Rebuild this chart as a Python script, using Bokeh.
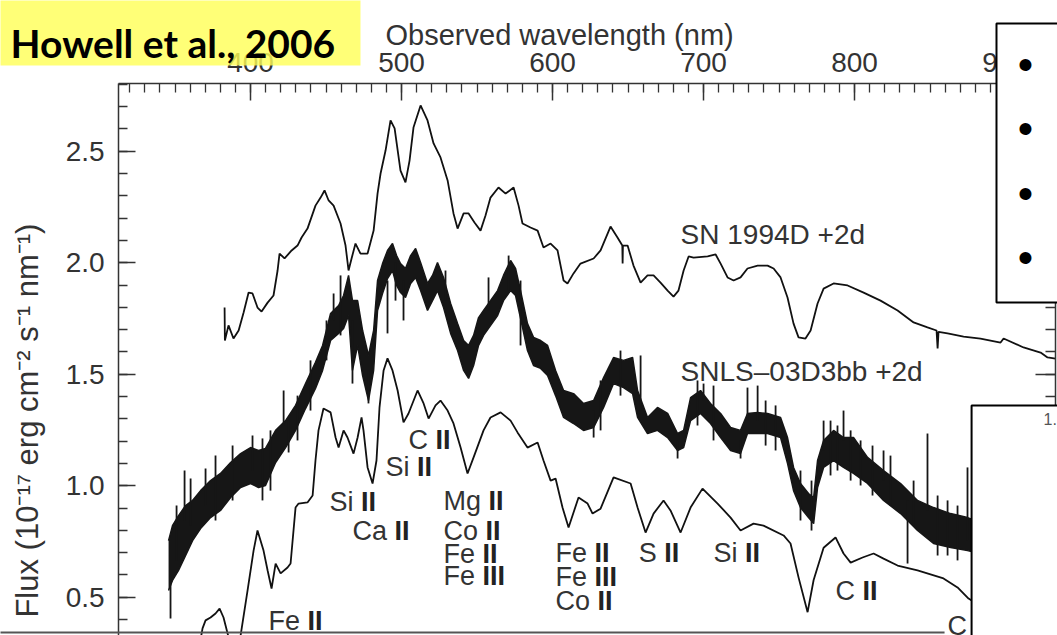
import math
from bokeh.plotting import figure
from bokeh.models import (Range1d, FixedTicker, LinearAxis, Label, BoxAnnotation,
                          ColumnDataSource, PrintfTickFormatter, CustomJSTickFormatter)
from bokeh.core.properties import value
from bokeh.embed import file_html
from bokeh.resources import INLINE

# ---------------- data ----------------
# SN 1994D +2d  (wavelength nm, flux 1e-17 erg cm-2 s-1 nm-1)
sn94_wl = [382.8, 383.0, 385.4, 388.7, 392.1, 395.4, 398.7, 401.3, 404.6, 407.3, 411.3, 415.2,
           417.9, 419.2, 422.5, 427.2, 431.1, 433.8, 437.7, 443.0, 446.4, 449.0, 451.7, 455.0,
           459.6, 462.9, 464.9, 466.9, 469.5, 472.8, 477.5, 481.5, 484.1, 486.1, 489.4, 492.7,
           495.4, 499.3, 502.6, 505.3, 507.9, 512.6, 517.2, 521.2, 525.8, 530.5, 534.4, 537.1,
           541.1, 544.4, 548.3, 552.3, 555.6, 558.9, 564.2, 568.9, 574.2, 577.5, 580.1, 585.4,
           590.1, 594.0, 598.7, 603.3, 607.3, 609.9, 613.9, 618.5, 627.2, 631.8, 638.4, 643.0,
           646.2, 646.4, 646.6, 649.7, 653.6, 658.3, 662.9, 666.9, 671.5, 676.2, 680.1, 683.4,
           686.8, 690.1, 693.4, 702.7, 708.0, 711.3, 715.9, 719.9, 724.5, 729.1, 735.8, 742.4,
           746.4, 751.0, 755.6, 759.6, 762.9, 767.5, 770.9, 775.5, 779.5, 786.1, 795.4, 806.0,
           817.2, 828.5, 839.1, 848.3, 854.3, 855.0, 855.6, 861.6, 872.2, 883.4, 896.7, 898.7,
           911.9, 923.2, 927.8, 933.1]
sn94_flux = [1.799, 1.651, 1.719, 1.660, 1.696, 1.777, 1.866, 1.862, 1.799, 1.781, 1.821, 1.853,
             1.965, 2.041, 2.019, 2.055, 2.077, 2.113, 2.153, 2.256, 2.292, 2.324, 2.279, 2.256,
             2.176, 2.077, 1.965, 2.019, 2.086, 2.041, 2.041, 2.144, 2.310, 2.400, 2.503, 2.638,
             2.602, 2.413, 2.360, 2.458, 2.606, 2.705, 2.638, 2.535, 2.472, 2.369, 2.221, 2.153,
             2.221, 2.221, 2.180, 2.144, 2.212, 2.292, 2.337, 2.310, 2.337, 2.256, 2.176, 2.158,
             2.144, 2.068, 2.086, 2.055, 1.920, 1.907, 1.952, 1.996, 2.019, 2.055, 2.162, 2.113,
             2.077, 1.996, 2.077, 2.077, 1.987, 1.911, 1.943, 1.943, 1.911, 1.875, 1.848, 1.875,
             1.965, 2.028, 2.023, 2.028, 2.037, 1.996, 1.934, 1.920, 1.934, 1.974, 1.987, 1.987,
             1.974, 1.934, 1.844, 1.727, 1.665, 1.660, 1.696, 1.817, 1.884, 1.907, 1.898, 1.866,
             1.830, 1.786, 1.732, 1.710, 1.696, 1.615, 1.690, 1.683, 1.669, 1.660, 1.642, 1.660,
             1.620, 1.597, 1.575, 1.570]

# SNLS-03D3bb +2d : noisy spectrum, upper / lower envelope of the trace
snls_wl = [345.7, 348.3, 352.3, 357.0, 361.6, 366.9, 373.5, 380.1, 386.8, 393.4, 400.0, 405.3,
           409.9, 416.6, 423.2, 429.8, 436.4, 443.0, 447.7, 453.0, 458.3, 461.6, 464.9, 467.5,
           470.9, 474.2, 478.1, 481.5, 484.1, 487.4, 490.7, 494.0, 496.7, 499.3, 502.6, 506.0,
           509.3, 512.6, 517.2, 520.5, 523.8, 527.8, 532.5, 537.1, 541.1, 544.4, 547.7, 551.0,
           554.3, 558.9, 563.6, 567.5, 572.2, 575.5, 578.8, 583.4, 587.4, 592.1, 596.7, 602.0,
           607.3, 613.9, 620.5, 627.2, 633.8, 640.4, 647.0, 653.0, 656.3, 662.9, 669.5, 676.2,
           682.8, 686.8, 691.4, 698.0, 704.6, 711.3, 717.9, 724.5, 729.1, 735.8, 742.4, 751.0,
           755.6, 759.6, 764.2, 769.5, 772.9, 775.5, 779.5, 786.1, 792.7, 799.3, 808.6, 819.2,
           830.5, 841.7, 852.3, 863.6, 874.8, 880.1]
snls_hi = [0.754, 0.821, 0.866, 0.911, 0.934, 0.978, 1.023, 1.055, 1.104, 1.144, 1.171, 1.158,
           1.167, 1.248, 1.292, 1.360, 1.458, 1.553, 1.629, 1.772, 1.808, 1.853, 1.943, 1.830,
           1.830, 1.696, 1.584, 1.696, 1.920, 1.996, 2.055, 2.086, 2.032, 1.996, 1.974, 2.032,
           2.064, 2.001, 1.907, 1.943, 2.001, 1.934, 1.817, 1.727, 1.651, 1.629, 1.674, 1.754,
           1.786, 1.830, 1.875, 1.943, 2.010, 1.974, 1.875, 1.727, 1.665, 1.651, 1.629, 1.517,
           1.427, 1.413, 1.369, 1.382, 1.485, 1.575, 1.562, 1.575, 1.427, 1.306, 1.351, 1.324,
           1.234, 1.248, 1.395, 1.427, 1.369, 1.324, 1.261, 1.248, 1.324, 1.328, 1.324, 1.306,
           1.216, 1.082, 1.010, 0.965, 0.947, 1.113, 1.203, 1.248, 1.216, 1.216, 1.127, 1.068,
           1.010, 0.934, 0.902, 0.875, 0.857, 0.844]
snls_lo = [0.530, 0.575, 0.620, 0.687, 0.754, 0.808, 0.857, 0.889, 0.947, 0.992, 1.010, 0.992,
           1.001, 1.104, 1.171, 1.248, 1.346, 1.436, 1.517, 1.651, 1.683, 1.705, 1.763, 1.517,
           1.629, 1.494, 1.382, 1.517, 1.786, 1.862, 1.929, 1.965, 1.898, 1.866, 1.844, 1.907,
           1.934, 1.875, 1.786, 1.830, 1.875, 1.799, 1.683, 1.606, 1.517, 1.481, 1.539, 1.629,
           1.674, 1.718, 1.763, 1.830, 1.875, 1.853, 1.750, 1.606, 1.539, 1.526, 1.494, 1.404,
           1.306, 1.279, 1.248, 1.261, 1.351, 1.458, 1.440, 1.413, 1.306, 1.234, 1.248, 1.216,
           1.158, 1.171, 1.292, 1.324, 1.279, 1.216, 1.158, 1.144, 1.234, 1.234, 1.234, 1.216,
           1.100, 0.978, 0.902, 0.857, 0.830, 0.992, 1.082, 1.113, 1.082, 1.055, 1.010, 0.934,
           0.875, 0.799, 0.741, 0.723, 0.709, 0.700]
# isolated noise spikes of the SNLS trace (wavelength, top, bottom)
spike_wl = [347.0, 351.0, 356.3, 360.3, 370.2, 376.8, 388.1, 401.3, 407.9, 413.2, 421.9, 425.2,
            431.1, 439.7, 450.3, 455.0, 459.6, 467.5, 478.1, 490.7, 496.0, 501.3, 529.1, 557.6,
            570.9, 578.8, 627.2, 631.8, 645.0, 658.3, 682.8, 696.0, 700.0, 706.6, 724.5, 729.1,
            735.8, 741.1, 747.7, 764.2, 771.5, 779.5, 784.1, 788.7, 792.7, 797.4, 804.0, 811.9,
            819.2, 823.8, 835.1, 839.1, 848.3, 855.0, 861.6, 868.2, 874.8]
spike_hi = [0.597, 0.911, 1.068, 1.032, 1.077, 1.135, 1.180, 1.225, 1.212, 1.248, 1.427, 1.292,
            1.404, 1.562, 1.741, 1.862, 1.943, 1.741, 1.517, 1.920, 2.001, 1.920, 1.965, 1.934,
            2.032, 1.920, 1.337, 1.472, 1.606, 1.584, 1.203, 1.472, 1.458, 1.449, 1.203, 1.440,
            1.449, 1.382, 1.360, 1.068, 1.023, 1.292, 1.292, 1.270, 1.337, 1.248, 1.203, 1.180,
            1.158, 1.135, 0.934, 1.023, 1.234, 0.956, 0.934, 0.911, 1.082]
spike_lo = [0.405, 0.665, 0.844, 0.821, 0.911, 0.844, 0.934, 1.068, 0.934, 0.978, 1.270, 1.149,
            1.203, 1.337, 1.562, 1.741, 1.674, 1.458, 1.369, 1.683, 1.830, 1.741, 1.830, 1.786,
            1.875, 1.629, 1.216, 1.248, 1.404, 1.337, 1.122, 1.270, 1.382, 1.203, 1.122, 1.292,
            1.292, 1.180, 1.158, 0.844, 0.799, 1.158, 1.046, 1.068, 1.203, 1.023, 1.001, 0.956,
            1.023, 0.911, 0.651, 0.821, 0.889, 0.687, 0.687, 0.665, 0.754]

# lower comparison spectrum
cmp_wl = [365.6, 368.2, 370.2, 373.5, 376.8, 379.5, 382.1, 384.8, 388.7, 393.4, 398.0, 402.0,
          404.6, 408.6, 411.3, 413.9, 416.6, 419.9, 424.5, 426.5, 429.8, 431.8, 437.7, 441.1,
          443.0, 445.0, 448.3, 453.0, 456.3, 458.3, 461.6, 464.2, 468.2, 470.9, 473.5, 474.8,
          477.5, 480.8, 483.4, 485.4, 488.1, 490.7, 494.0, 497.4, 501.3, 504.6, 510.6, 514.6,
          517.9, 522.5, 525.8, 530.5, 534.4, 539.1, 543.7, 547.7, 554.3, 558.9, 565.6, 572.2,
          576.8, 583.4, 590.1, 594.0, 598.7, 602.0, 606.6, 610.6, 617.2, 623.2, 626.5, 631.8,
          640.4, 651.7, 656.3, 661.6, 666.9, 673.5, 678.1, 684.8, 691.4, 699.3, 709.3, 717.9,
          724.5, 733.1, 739.7, 753.0, 757.6, 762.9, 768.9, 772.9, 779.5, 787.4, 792.7, 797.4,
          805.3, 812.6, 819.2, 828.5, 841.7, 858.9, 868.2, 875.5, 883.4]
cmp_flux = [0.261, 0.360, 0.396, 0.409, 0.427, 0.449, 0.409, 0.337, 0.238, 0.328, 0.530, 0.709,
            0.799, 0.709, 0.620, 0.539, 0.651, 0.607, 0.633, 0.651, 0.902, 0.920, 0.925, 0.956,
            1.113, 1.248, 1.346, 1.329, 1.216, 1.171, 1.248, 1.216, 1.144, 1.216, 1.306, 1.248,
            1.082, 1.010, 1.113, 1.351, 1.517, 1.571, 1.517, 1.427, 1.284, 1.324, 1.427, 1.369,
            1.301, 1.360, 1.382, 1.337, 1.279, 1.171, 1.055, 1.127, 1.248, 1.306, 1.329, 1.292,
            1.239, 1.171, 1.194, 1.113, 1.023, 1.032, 0.902, 0.813, 0.947, 0.920, 0.875, 0.897,
            1.037, 1.010, 0.902, 0.790, 0.875, 0.934, 0.889, 0.790, 0.902, 0.987, 0.920, 0.857,
            0.799, 0.830, 0.821, 0.777, 0.741, 0.589, 0.433, 0.577, 0.722, 0.768, 0.696, 0.655,
            0.678, 0.696, 0.673, 0.642, 0.620, 0.584, 0.544, 0.494, 0.459]

# line identifications
ion_elem = ["C", "Si", "Si", "Ca", "Mg", "Co", "Fe", "Fe", "Fe", "Fe", "Co", "S", "Si", "C",
            "Fe", "C", "Si"]
ion_stage = ["II", "II", "II", "II", "II", "II", "II", "III", "II", "III", "II", "II", "II",
             "II", "II", "II", "II"]
ion_wl = [504.6, 489.4, 452.3, 467.5, 527.8, 527.8, 527.8, 527.8, 602.0, 602.0, 602.0, 657.0,
          706.6, 787.4, 411.9, 861.6, 760.9]
ion_flux = [1.203, 1.082, 0.925, 0.795, 0.930, 0.799, 0.696, 0.593, 0.700, 0.589, 0.485, 0.700,
            0.700, 0.530, 0.395, 0.373, 0.283]

series_names = ["SN 1994D +2d", "SNLS\u201303D3bb +2d"]
series_wl = [684.8, 684.8]
series_flux = [2.126, 1.512]

x_major = [400, 500, 600, 700, 800, 900]
y_major = [0.5, 1.0, 1.5, 2.0, 2.5]
x_minor = [320 + 10 * i for i in range(62)]
y_minor = [round(0.4 + 0.1 * i, 1) for i in range(25)]

# plot box of the original figure (data units)
X_LEFT, X_RIGHT = 312.6, 933.1
Y_TOP = 2.8036

# ---------------- figure ----------------
FONT = "Liberation Sans"
TXT = "#333333"
INK = "#111111"

p = figure(width=1057, height=635, output_backend="svg", toolbar_location=None,
           x_range=Range1d(234.4, 934.4), y_range=Range1d(0.3283, 3.1758),
           x_axis_type=None, y_axis_type=None, title=None,
           min_border_left=0, min_border_right=0, min_border_top=0, min_border_bottom=0)
p.outline_line_color = None
p.background_fill_color = "white"
p.border_fill_color = "white"


def style_axis(ax):
    ax.axis_line_color = "#333333"
    ax.axis_line_width = 1.5
    ax.major_tick_line_color = "#333333"
    ax.minor_tick_line_color = "#333333"
    ax.major_tick_line_width = 1.5
    ax.minor_tick_line_width = 1.3
    ax.major_tick_in = 17
    ax.major_tick_out = 0
    ax.minor_tick_in = 9
    ax.minor_tick_out = 0
    ax.major_label_text_font = FONT
    ax.major_label_text_color = TXT
    ax.major_label_text_font_size = "28px"


xa = LinearAxis(ticker=FixedTicker(ticks=x_major, minor_ticks=x_minor),
                fixed_location=Y_TOP, bounds=(X_LEFT, X_RIGHT))
style_axis(xa)
xa.major_label_standoff = 12
p.add_layout(xa, "above")

ya = LinearAxis(ticker=FixedTicker(ticks=y_major, minor_ticks=y_minor),
                formatter=PrintfTickFormatter(format="%.1f"),
                fixed_location=X_LEFT, bounds=(0.0, Y_TOP))
style_axis(ya)
ya.major_label_standoff = 14
p.add_layout(ya, "left")

ra = LinearAxis(ticker=FixedTicker(ticks=y_major, minor_ticks=y_minor),
                formatter=CustomJSTickFormatter(code="return ''"),
                fixed_location=X_RIGHT, bounds=(0.0, Y_TOP))
style_axis(ra)
ra.major_tick_in = 20
ra.minor_tick_in = 10
p.add_layout(ra, "right")

# spectra
p.line(sn94_wl, sn94_flux, line_color=INK, line_width=1.8)
p.varea(x=snls_wl, y1=snls_lo, y2=snls_hi, fill_color="#161616")
p.line(snls_wl, snls_hi, line_color="#161616", line_width=1.5)
p.line(snls_wl, snls_lo, line_color="#161616", line_width=1.5)
p.segment(x0=spike_wl, y0=spike_lo, x1=spike_wl, y1=spike_hi, line_color="#161616",
          line_width=1.8)
p.line(cmp_wl, cmp_flux, line_color=INK, line_width=1.8)

# line-ID labels: element in regular, ionisation stage in bold bars
ION_SIZE = 27
adv = {"C": 0.722, "S": 0.667, "i": 0.222, "a": 0.556, "M": 0.833, "g": 0.556,
       "o": 0.556, "F": 0.611, "e": 0.556, " ": 0.278}
stage_offset = [sum(adv[c] for c in e + " ") * ION_SIZE for e in ion_elem]
ion_src = ColumnDataSource(dict(x=ion_wl, y=ion_flux, elem=ion_elem, stage=ion_stage,
                                off=stage_offset))
p.text(x="x", y="y", text="elem", source=ion_src, text_font=value(FONT),
       text_font_size=f"{ION_SIZE}px", text_color=TXT, text_align="left", text_baseline="middle")
p.text(x="x", y="y", text="stage", x_offset="off", source=ion_src, text_font=value(FONT),
       text_font_style="bold", text_font_size=f"{ION_SIZE}px", text_color="#222222",
       text_align="left", text_baseline="middle")

p.text(x=series_wl, y=series_flux, text=series_names, text_font=value(FONT),
       text_font_size="28px", text_color=TXT, text_align="left", text_baseline="middle")

# axis titles
p.add_layout(Label(x=489.4, y=3.019, text="Observed wavelength (nm)", text_font=FONT,
                   text_font_size="29px", text_color=TXT, text_align="left",
                   text_baseline="alphabetic"))
p.add_layout(Label(x=252.3, y=1.292,
                   text="Flux (10\u207b\u00b9\u2077 erg cm\u207b\u00b2 s\u207b\u00b9 nm\u207b\u00b9)",
                   angle=math.pi / 2, text_font=FONT, text_font_size="31px", text_color=TXT,
                   text_align="center", text_baseline="middle"))

# slide overlays
p.add_layout(BoxAnnotation(left=230.0, right=472.8, top=3.30, bottom=2.884,
                           fill_color="#FFFF55", fill_alpha=0.8, line_color=None))
p.add_layout(Label(x=241.1, y=2.983, text="Howell et al., 2006", text_font="Lato",
                   text_font_style="bold", text_font_size="39px", text_color="black",
                   text_baseline="alphabetic"))

p.add_layout(BoxAnnotation(left=894.0, right=960.0, top=3.073, bottom=1.8215,
                           fill_color="white", fill_alpha=1.0, line_color="black",
                           line_alpha=1.0, line_width=2))
for by in [2.889, 2.602, 2.310, 2.023]:
    p.add_layout(Label(x=913.2, y=by, text="\u2022", text_font=FONT, text_font_size="44px",
                       text_color="black", text_align="center", text_baseline="middle"))

p.add_layout(BoxAnnotation(left=877.5, right=960.0, top=1.3596, bottom=0.20,
                           fill_color="white", fill_alpha=1.0, line_color="black",
                           line_alpha=1.0, line_width=2))
p.add_layout(Label(x=925.2, y=1.297, text="1.", text_font=FONT, text_font_size="16px",
                   text_color="#555555", text_align="left", text_baseline="middle"))

p.add_layout(BoxAnnotation(left=230.0, right=859.6, top=0.3462, bottom=0.3372,
                           fill_color="#555555", fill_alpha=1.0, line_color=None))

open("out.html", "w").write(file_html(p, INLINE))
